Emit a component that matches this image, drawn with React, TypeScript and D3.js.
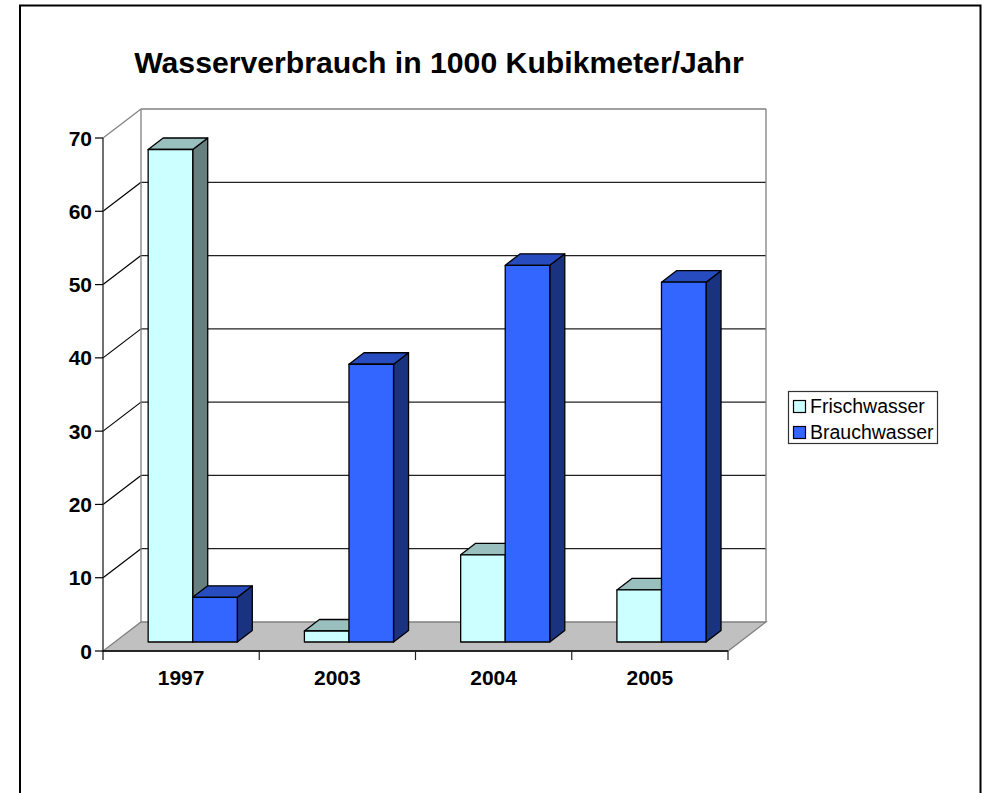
import React from "react";
import * as d3 from "d3";

const categories = ["1997", "2003", "2004", "2005"];
const seriesNames = ["Frischwasser", "Brauchwasser"];
const frischwasser = [67.2, 1.5, 11.9, 7.1];
const brauchwasser = [6.1, 37.9, 51.4, 49.1];
const valueTicks = [0, 10, 20, 30, 40, 50, 60, 70];
const titleText = "Wasserverbrauch in 1000 Kubikmeter/Jahr";

const frontColors = ["#CCFFFF", "#3366FF"];
const topColors = ["#99BFBF", "#264CBF"];
const sideColors = ["#668080", "#1A3380"];

const font = "'Liberation Sans', Arial, sans-serif";

const x0 = 103, x1 = 728, yBase = 651, yTop = 138;
const wallDx = 38, wallDy = -29;
const barOffDx = 11.6, barOffDy = -9;
const barDx = 15, barDy = -11.5;

const y = d3.scaleLinear().domain([0, 70]).range([yBase, yTop]);
const xBand = d3.scaleBand<string>().domain(categories).range([x0, x1]);
const xInner = d3.scaleBand<string>().domain(seriesNames).range([0, xBand.bandwidth()]).paddingOuter(0.753).paddingInner(0);
const line = d3.line<[number, number]>();
const closed = (pts: [number, number][]) => line(pts) + "Z";

export default function App() {
  const series = [frischwasser, brauchwasser];
  return (
    <svg width={987} height={793} style={{ position: "absolute", left: 0, top: 0, display: "block", background: "#fff" }}>
      <rect x={20} y={5.5} width={960.5} height={830} fill="#fff" stroke="#000" strokeWidth={2} />
      <text x={439} y={72.5} textAnchor="middle" fontFamily={font} fontWeight="bold" fontSize={30.2} fill="#000">{titleText}</text>

      {/* floor */}
      <path d={closed([[x0, yBase], [x1, yBase], [x1 + wallDx, yBase + wallDy], [x0 + wallDx, yBase + wallDy]])} fill="#C0C0C0" stroke="#808080" strokeWidth={1.3} />
      {/* back wall grid */}
      {valueTicks.map((t) => (
        <g key={t}>
          {t > 0 && t < 70 && <line x1={x0 + wallDx} x2={x1 + wallDx} y1={y(t) + wallDy} y2={y(t) + wallDy} stroke="#222" strokeWidth={1.2} />}
          {t > 0 && <line x1={x0} x2={x0 + wallDx} y1={y(t)} y2={y(t) + wallDy} stroke={t === 70 ? "#808080" : "#000"} strokeWidth={1.2} />}
          {t === 70 && <line x1={x0 + wallDx} x2={x1 + wallDx} y1={y(t) + wallDy} y2={y(t) + wallDy} stroke="#808080" strokeWidth={1.3} />}
        </g>
      ))}
      <line x1={x0 + wallDx} x2={x0 + wallDx} y1={y(70) + wallDy} y2={yBase + wallDy} stroke="#808080" strokeWidth={1.3} />
      <line x1={x1 + wallDx} x2={x1 + wallDx} y1={y(70) + wallDy} y2={yBase + wallDy} stroke="#808080" strokeWidth={1.3} />

      {/* bars */}
      {categories.map((c, i) =>
        seriesNames.map((s, k) => {
          const v = series[k][i];
          const bx0 = (xBand(c) as number) + (xInner(s) as number) + barOffDx;
          const bx1 = bx0 + xInner.bandwidth();
          const by0 = y(0) + barOffDy;
          const by1 = y(v) + barOffDy;
          return (
            <g key={c + s} stroke="#000" strokeWidth={1.3} strokeLinejoin="round">
              <path d={closed([[bx1, by0], [bx1 + barDx, by0 + barDy], [bx1 + barDx, by1 + barDy], [bx1, by1]])} fill={sideColors[k]} />
              <path d={closed([[bx0, by1], [bx1, by1], [bx1 + barDx, by1 + barDy], [bx0 + barDx, by1 + barDy]])} fill={topColors[k]} />
              <rect x={bx0} y={by1} width={bx1 - bx0} height={by0 - by1} fill={frontColors[k]} />
            </g>
          );
        })
      )}

      {/* axes */}
      <line x1={x0} x2={x0} y1={yTop} y2={yBase + 9} stroke="#222" strokeWidth={1.3} />
      <line x1={x0} x2={x1} y1={yBase} y2={yBase} stroke="#000" strokeWidth={1.3} />
      {valueTicks.map((t) => (
        <g key={t}>
          <line x1={x0 - 8} x2={x0} y1={y(t)} y2={y(t)} stroke="#000" strokeWidth={1.2} />
          <text x={x0 - 11} y={y(t) + 7.5} textAnchor="end" fontFamily={font} fontWeight="bold" fontSize={21} fill="#000">{t}</text>
        </g>
      ))}
      {categories.map((c) => (
        <g key={c}>
          <line x1={(xBand(c) as number) + xBand.bandwidth()} x2={(xBand(c) as number) + xBand.bandwidth()} y1={yBase} y2={yBase + 9} stroke="#222" strokeWidth={1.2} />
          <text x={(xBand(c) as number) + xBand.bandwidth() / 2} y={685} textAnchor="middle" fontFamily={font} fontWeight="bold" fontSize={21} fill="#000">{c}</text>
        </g>
      ))}

      {/* legend */}
      <rect x={788.5} y={391.5} width={149} height={52} fill="#fff" stroke="#333" strokeWidth={1.2} />
      {seriesNames.map((s, k) => (
        <g key={s}>
          <rect x={793.5} y={400.5 + k * 26} width={12} height={12} fill={frontColors[k]} stroke="#000" strokeWidth={1.2} />
          <text x={810} y={413 + k * 26} fontFamily={font} fontSize={19.5} fill="#000">{s}</text>
        </g>
      ))}
    </svg>
  );
}
